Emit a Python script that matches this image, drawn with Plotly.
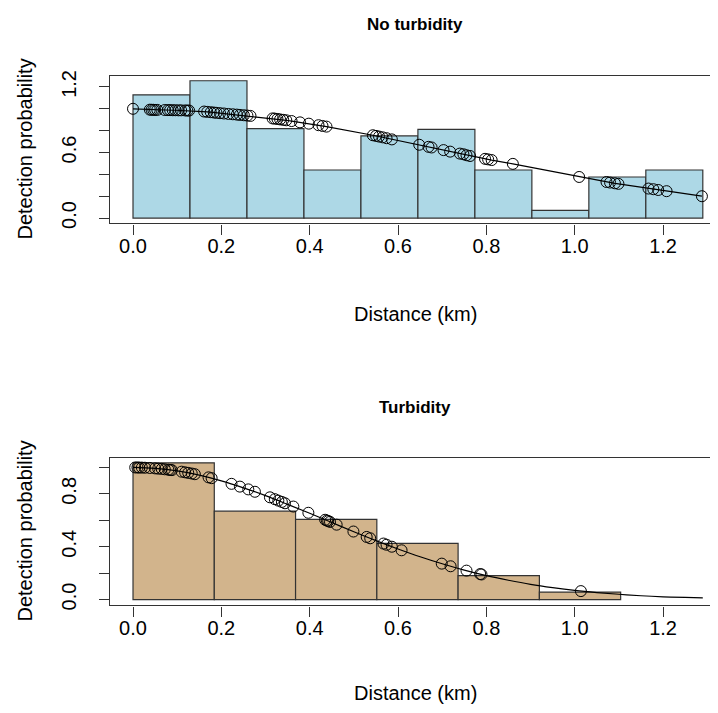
import plotly.graph_objects as go

# ---------------- data: No turbidity ----------------
top_bin_edges = [0.0, 0.129, 0.258, 0.387, 0.516, 0.645, 0.774, 0.903, 1.032, 1.161, 1.29]
top_bar_heights = [1.128, 1.257, 0.818, 0.44, 0.752, 0.812, 0.44, 0.07, 0.376, 0.44]

top_dist = [0.000, 0.038, 0.042, 0.046, 0.050, 0.055, 0.072, 0.079, 0.084, 0.090,
            0.096, 0.103, 0.109, 0.118, 0.123, 0.127, 0.161, 0.168, 0.176, 0.183,
            0.189, 0.197, 0.206, 0.216, 0.226, 0.235, 0.242, 0.251, 0.259, 0.266,
            0.316, 0.321, 0.327, 0.333, 0.340, 0.347, 0.359, 0.378, 0.398, 0.420,
            0.429, 0.438, 0.543, 0.550, 0.557, 0.565, 0.574, 0.586, 0.648, 0.669,
            0.676, 0.703, 0.718, 0.740, 0.748, 0.755, 0.763, 0.797, 0.804, 0.812,
            0.860, 1.010, 1.072, 1.080, 1.091, 1.099, 1.167, 1.178, 1.189, 1.208,
            1.288]
top_prob = [1.000, 0.992, 0.991, 0.991, 0.990, 0.990, 0.989, 0.988, 0.988, 0.987,
            0.987, 0.986, 0.986, 0.985, 0.984, 0.984, 0.975, 0.972, 0.969, 0.966,
            0.963, 0.960, 0.957, 0.953, 0.950, 0.947, 0.944, 0.941, 0.938, 0.935,
            0.912, 0.910, 0.907, 0.903, 0.899, 0.895, 0.888, 0.876, 0.864, 0.850,
            0.843, 0.837, 0.758, 0.752, 0.746, 0.739, 0.731, 0.720, 0.671, 0.652,
            0.646, 0.622, 0.608, 0.590, 0.584, 0.575, 0.568, 0.542, 0.537, 0.531,
            0.496, 0.376, 0.330, 0.325, 0.318, 0.313, 0.270, 0.264, 0.257, 0.246,
            0.200]

# ---------------- data: Turbidity ----------------
bot_bin_edges = [0.0, 0.184, 0.368, 0.552, 0.736, 0.920, 1.104]
bot_bar_heights = [1.035, 0.669, 0.607, 0.425, 0.181, 0.057]

bot_dist = [0.005, 0.010, 0.014, 0.020, 0.027, 0.038, 0.050, 0.057, 0.065, 0.072,
            0.080, 0.084, 0.088, 0.110, 0.118, 0.125, 0.133, 0.140, 0.171, 0.178,
            0.223, 0.242, 0.261, 0.276, 0.310, 0.321, 0.329, 0.337, 0.344, 0.363,
            0.397, 0.435, 0.439, 0.442, 0.446, 0.461, 0.499, 0.529, 0.537, 0.567,
            0.574, 0.586, 0.608, 0.699, 0.719, 0.755, 0.786, 0.789, 1.014]
bot_prob = [1.000, 1.000, 0.999, 0.999, 0.998, 0.996, 0.993, 0.991, 0.989, 0.986,
            0.983, 0.981, 0.980, 0.968, 0.963, 0.959, 0.954, 0.949, 0.925, 0.919,
            0.876, 0.855, 0.834, 0.816, 0.774, 0.760, 0.749, 0.739, 0.729, 0.704,
            0.657, 0.604, 0.598, 0.594, 0.588, 0.567, 0.515, 0.474, 0.464, 0.424,
            0.415, 0.400, 0.373, 0.272, 0.252, 0.219, 0.193, 0.190, 0.064]

bot_curve_x = [0.0, 0.05, 0.1, 0.15, 0.2, 0.25, 0.3, 0.35, 0.4, 0.45, 0.5, 0.55,
               0.6, 0.65, 0.7, 0.75, 0.8, 0.85, 0.9, 0.95, 1.0, 1.05, 1.1, 1.15,
               1.2, 1.25, 1.29]
bot_curve_y = [1.0, 0.993, 0.974, 0.942, 0.899, 0.846, 0.787, 0.721, 0.653, 0.583,
               0.513, 0.446, 0.383, 0.324, 0.271, 0.223, 0.181, 0.146, 0.115, 0.090,
               0.069, 0.053, 0.040, 0.029, 0.021, 0.016, 0.012]

x_tick_vals = [0.0, 0.2, 0.4, 0.6, 0.8, 1.0, 1.2]
x_tick_text = ["0.0", "0.2", "0.4", "0.6", "0.8", "1.0", "1.2"]
top_y_tick_vals = [0.0, 0.2, 0.4, 0.6, 0.8, 1.0, 1.2]
top_y_tick_text = ["0.0", "", "", "0.6", "", "", "1.2"]
bot_y_tick_vals = [0.0, 0.2, 0.4, 0.6, 0.8, 1.0]
bot_y_tick_text = ["0.0", "", "0.4", "", "0.8", ""]

# the page body has an 8px margin, so the figure is offset by 8px
OFF = 8
W, H = 718 - OFF, 713 - OFF
FONT = "Liberation Sans, Arial, Helvetica, sans-serif"
LINE_COL = "#333333"


def px_x(p):
    return (p - OFF) / W


def px_y(p):
    return 1 - (p - OFF) / H


fig = go.Figure()

# Top panel
fig.add_trace(go.Bar(
    x=top_bin_edges[:-1], y=top_bar_heights,
    width=[b - a for a, b in zip(top_bin_edges[:-1], top_bin_edges[1:])],
    offset=0, marker=dict(color="#ADD8E6", line=dict(color=LINE_COL, width=1.2)),
    xaxis="x", yaxis="y", showlegend=False, hoverinfo="skip"))
fig.add_trace(go.Scatter(
    x=top_dist, y=top_prob, mode="lines+markers",
    line=dict(color="black", width=1.2),
    marker=dict(symbol="circle-open", size=11, color="black", line=dict(width=1)),
    xaxis="x", yaxis="y", showlegend=False))

# Bottom panel
fig.add_trace(go.Bar(
    x=bot_bin_edges[:-1], y=bot_bar_heights,
    width=[b - a for a, b in zip(bot_bin_edges[:-1], bot_bin_edges[1:])],
    offset=0, marker=dict(color="#D2B48C", line=dict(color=LINE_COL, width=1.2)),
    xaxis="x2", yaxis="y2", showlegend=False, hoverinfo="skip"))
fig.add_trace(go.Scatter(
    x=bot_curve_x, y=bot_curve_y, mode="lines", line=dict(color="black", width=1.2, shape="spline"),
    xaxis="x2", yaxis="y2", showlegend=False))
fig.add_trace(go.Scatter(
    x=bot_dist, y=bot_prob, mode="markers",
    marker=dict(symbol="circle-open", size=11, color="black", line=dict(width=1)),
    xaxis="x2", yaxis="y2", showlegend=False))

x_left = 110
x_range = [-0.0521, 1.3244]
top_box = (71.5, 221.5)
bot_box = (459.3, 609.0)

axis_common = dict(showgrid=False, zeroline=False, showline=True, linecolor=LINE_COL,
                   linewidth=1.2, ticks="outside", ticklen=10, tickcolor=LINE_COL,
                   tickwidth=1.2, tickfont=dict(family=FONT, size=20, color="black"))

fig.update_layout(
    width=W, height=H,
    margin=dict(l=0, r=0, t=0, b=0),
    paper_bgcolor="white", plot_bgcolor="white",
    barmode="overlay",
    xaxis=dict(domain=[px_x(x_left), 1], range=x_range, anchor="y",
               tickvals=x_tick_vals, ticktext=x_tick_text, mirror=True,
               ticklabelstandoff=-6, **axis_common),
    yaxis=dict(domain=[px_y(top_box[1]), px_y(top_box[0])], range=[-0.0496, 1.304],
               anchor="x", tickvals=top_y_tick_vals, ticktext=top_y_tick_text,
               tickangle=-90, ticklabelstandoff=15, **axis_common),
    xaxis2=dict(domain=[px_x(x_left), 1], range=x_range, anchor="y2",
                tickvals=x_tick_vals, ticktext=x_tick_text, mirror=True,
                ticklabelstandoff=-6, **axis_common),
    yaxis2=dict(domain=[px_y(bot_box[1]), px_y(bot_box[0])], range=[-0.0448, 1.0724],
                anchor="x2", tickvals=bot_y_tick_vals, ticktext=bot_y_tick_text,
                tickangle=-90, ticklabelstandoff=15, **axis_common),
)


def ann(text, x, y, size, bold=False, angle=0):
    fig.add_annotation(text=("<b>%s</b>" % text) if bold else text,
                       x=px_x(x), y=px_y(y), xref="paper", yref="paper",
                       xanchor="center", yanchor="middle", showarrow=False,
                       textangle=angle, font=dict(family=FONT, size=size, color="black"))


ann("No turbidity", 415, 20, 17, bold=True)
ann("Distance (km)", 415, 313, 20)
ann("Detection probability", 25, 146.5, 20, angle=-90)
ann("Turbidity", 415, 408, 17, bold=True)
ann("Distance (km)", 415, 698, 20)
ann("Detection probability", 25, 534, 20, angle=-90)

fig.write_html("out.html")
